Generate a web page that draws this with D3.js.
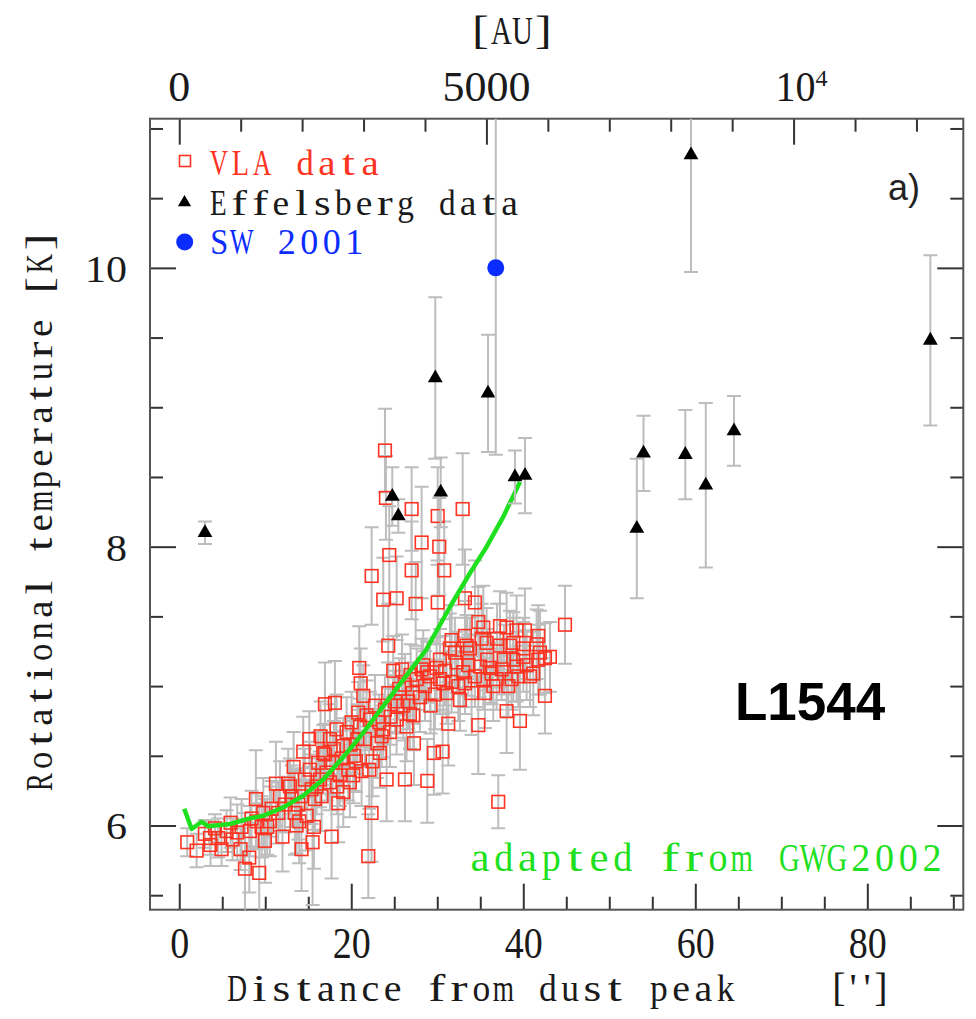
<!DOCTYPE html>
<html>
<head>
<meta charset="utf-8">
<script src="https://cdn.jsdelivr.net/npm/d3@7"></script>
<style>
  body { margin: 0; background: #fff; }
  svg { display: block; }
</style>
</head>
<body>
<div id="chart"></div>
<script>
// ---- data ----
// VLA points: [distance ("), Trot (K), error (K)]
const vlaPoints = [
  [0.93,5.88,0.1],[2.02,5.82,0.12],[2.98,5.94,0.1],[3.57,5.91,0.12],[3.64,5.86,0.15],
  [4.15,5.98,0.1],[4.53,5.91,0.14],[4.92,5.83,0.12],[5.5,5.96,0.15],[5.97,6.02,0.18],
  [6.2,5.90,0.15],[6.74,5.95,0.2],[7.13,5.83,0.15],[7.25,5.99,0.2],[7.64,5.69,0.4],
  [8.14,5.77,0.25],[8.22,5.96,0.18],[8.41,6.05,0.2],[8.91,6.19,0.35],[9.0,6.03,0.2],
  [9.3,5.66,0.5],[9.57,5.99,0.22],[9.77,6.09,0.25],[9.96,5.89,0.3],[10.23,5.99,0.2],
  [10.54,6.03,0.25],[10.74,6.12,0.2],[11.24,6.30,0.3],[11.51,6.09,0.22],[11.71,6.21,0.25],
  [12.0,5.92,0.25],[12.29,6.15,0.2],[12.67,6.30,0.25],[12.87,6.28,0.2],[13.06,6.21,0.22],
  [13.45,6.09,0.3],[13.64,6.00,0.2],[13.84,6.15,0.25],[13.95,6.03,0.3],[14.22,5.83,0.3],
  [14.22,6.21,0.2],[14.42,6.53,0.25],[14.61,6.33,0.22],[14.81,6.07,0.25],[15.12,6.62,0.2],
  [15.19,6.40,0.2],[15.39,6.26,0.25],[15.5,5.88,0.45],[15.66,5.99,0.3],[15.78,6.19,0.22],
  [15.97,6.28,0.2],[16.16,6.45,0.22],[16.36,6.33,0.2],[16.43,6.64,0.25],[16.55,6.21,0.25],
  [16.74,6.52,0.2],[16.94,6.87,0.3],[16.94,6.51,0.22],[17.13,6.38,0.2],[17.52,6.62,0.25],
  [17.52,6.31,0.2],[17.71,5.92,0.3],[17.83,6.45,0.22],[17.98,6.55,0.2],[18.1,6.88,0.3],
  [18.29,6.69,0.25],[18.37,6.28,0.2],[18.49,6.16,0.28],[18.68,6.36,0.22],[18.88,6.48,0.2],
  [19.07,6.24,0.25],[19.07,6.57,0.2],[19.46,6.67,0.25],[19.65,6.40,0.22],[19.84,6.31,0.25],
  [20.04,6.74,0.22],[20.23,6.36,0.2],[20.31,6.50,0.25],[20.54,6.46,0.22],[20.7,6.62,0.25],
  [20.81,6.81,0.22],[20.93,7.13,0.3],[21.01,6.71,0.2],[21.09,7.02,0.25],[21.2,6.39,0.25],
  [21.4,6.93,0.22],[21.59,6.62,0.2],[21.78,6.79,0.25],[21.98,5.78,0.3],[22.09,6.40,0.28],
  [22.17,6.76,0.2],[22.36,6.09,0.35],[22.37,7.79,0.35],[22.48,6.46,0.25],[22.75,6.86,0.22],
  [23.02,6.59,0.25],[23.26,6.74,0.2],[23.33,6.52,0.25],[23.53,6.64,0.22],[23.72,6.69,0.2],
  [23.72,7.62,0.3],[23.91,6.83,0.25],[23.92,8.69,0.3],[24.03,8.35,0.3],[24.11,6.33,0.3],
  [24.3,7.29,0.3],[24.3,6.95,0.22],[24.42,7.94,0.35],[24.5,6.67,0.25],[24.57,6.78,0.2],
  [24.88,7.11,0.25],[25.08,6.89,0.22],[25.27,6.76,0.25],[25.28,7.63,0.3],[25.35,6.86,0.2],
  [25.58,6.98,0.22],[26.05,6.86,0.25],[26.24,6.33,0.3],[26.24,7.01,0.22],[26.43,6.71,0.25],
  [26.63,6.89,0.2],[26.82,6.80,0.25],[27.02,8.27,0.3],[27.02,7.83,0.35],[27.13,6.95,0.22],
  [27.21,6.79,0.25],[27.29,6.59,0.3],[27.49,7.59,0.3],[27.6,7.05,0.22],[27.98,6.92,0.25],
  [28.18,7.12,0.22],[28.18,8.03,0.4],[28.57,7.00,0.25],[28.84,6.32,0.3],[28.84,7.10,0.22],
  [29.15,7.07,0.25],[29.22,6.86,0.2],[29.61,6.52,0.3],[29.73,6.94,0.25],[29.92,7.13,0.22],
  [30.05,8.22,0.35],[30.05,7.60,0.3],[30.23,8.00,0.35],[30.31,7.05,0.25],[30.62,6.53,0.3],
  [30.7,7.02,0.22],[30.81,7.83,0.35],[30.89,7.11,0.25],[31.09,6.95,0.22],[31.28,6.73,0.3],
  [31.47,7.27,0.25],[31.67,7.03,0.22],[31.67,7.33,0.25],[32.25,7.17,0.22],[32.44,7.00,0.25],
  [32.64,6.90,0.22],[32.95,8.27,0.4],[33.02,7.10,0.25],[33.22,7.02,0.22],[33.22,7.63,0.35],
  [33.22,7.36,0.25],[33.41,7.29,0.22],[33.49,7.24,0.25],[33.6,7.15,0.22],[33.99,6.95,0.3],
  [34.38,7.60,0.3],[34.38,7.07,0.22],[34.77,6.72,0.35],[34.77,7.46,0.25],[34.96,7.14,0.22],
  [35.16,7.34,0.25],[35.35,7.05,0.22],[35.35,7.42,0.3],[35.54,6.95,0.25],[35.81,7.19,0.22],
  [36.12,7.13,0.25],[36.32,7.09,0.22],[36.51,7.00,0.25],[36.9,7.05,0.22],[36.95,7.34,0.25],
  [37.09,6.17,0.19],[37.29,7.29,0.3],[37.29,7.43,0.25],[37.48,7.12,0.22],[37.75,7.19,0.25],
  [38.06,6.82,0.3],[38.06,7.42,0.25],[38.26,7.00,0.22],[38.45,7.29,0.25],[38.64,7.05,0.22],
  [38.84,7.19,0.3],[39.22,7.14,0.25],[39.22,7.40,0.25],[39.42,7.07,0.22],[39.61,6.75,0.35],
  [40.0,7.21,0.25],[40.0,7.27,0.22],[40.19,7.40,0.3],[40.39,7.15,0.25],[40.78,7.07,0.22],
  [41.16,7.09,0.3],[41.74,7.19,0.25],[41.74,7.36,0.22],[41.94,7.24,0.3],[42.52,7.20,0.25],
  [42.52,6.93,0.27],[44.85,7.44,0.28],
  [43.1,7.21,0.25],[41.55,7.30,0.25],[38.84,7.31,0.22],[35.74,7.31,0.25],[33.8,7.27,0.22],
  [32.05,7.24,0.25],[30.31,7.19,0.22],[28.37,7.15,0.25],[26.9,7.08,0.22],[25.9,7.12,0.25],
  [19.9,6.58,0.2],[13.3,6.42,0.25]
];

// Effelsberg points
const effDist = [2.99, 24.77, 25.47, 30.4, 29.77, 35.9, 39.03, 40.2, 59.5, 87.33, 53.98, 53.2, 58.84, 61.22, 64.5];
const effTemp = [8.10, 8.36, 8.22, 8.39, 9.21, 9.10, 8.50, 8.51, 10.81, 9.48, 8.67, 8.13, 8.66, 8.44, 8.83];
const effErr  = [0.08, 0.21, 0.12, 0.25, 0.58, 0.42, 0.19, 0.27, 0.84, 0.61, 0.27, 0.50, 0.32, 0.59, 0.25];

// SW 2001
const swDist = [36.8];
const swTemp = [10.0];
const swErr  = [1.34];

// green curve, adapted from GWG2002
const fitDist = [0.58, 1.44, 2.6, 3.37, 5.9, 8.2, 9.77, 12.09, 14.4, 16.74, 19.07, 21.4, 23.72, 26.05, 28.7, 31.5, 33.8, 35.74, 37.67, 39.62];
const fitTemp = [6.12, 5.975, 6.027, 5.994, 6.011, 6.051, 6.07, 6.13, 6.213, 6.33, 6.49, 6.666, 6.856, 7.047, 7.26, 7.571, 7.81, 8.0, 8.214, 8.465];

// ticks
const xTicks = [0, 20, 40, 60, 80];
const xMinorTicks = [5, 10, 15, 25, 30, 35, 45, 50, 55, 65, 70, 75, 85, 90];
const auTicks = [0, 5000, 10000];
const auMinorTicks = [1000, 2000, 3000, 4000, 6000, 7000, 8000, 9000, 11000, 12000];
const tempTicks = [6, 8, 10];
const tempMinorTicks = [5.5, 6.5, 7, 7.5, 8.5, 9, 9.5, 10.5, 11];
const auPerArcsec = 140;

// ---- layout ----
const W = 976, H = 1019;
const frame = { left: 150, right: 963.3, top: 118.7, bottom: 909.7 };
const serif = "'Liberation Serif', 'DejaVu Serif', serif";
const red = "#ff3322", green = "#1fe01f", blue = "#0b2cff", gray = "#bdbdbd", ink = "#1a1a1a";

const svg = d3.select("#chart").append("svg")
    .attr("width", W).attr("height", H)
    .style("background", "#fff");

const x = d3.scaleLinear().domain([-3.4, 91.16]).range([frame.left, frame.right]);
const y = d3.scaleLinear().domain([5.396, 11.07]).range([frame.bottom, frame.top]);
const xAU = d3.scaleLinear()
    .domain(x.domain().map(d => d * auPerArcsec))
    .range(x.range());

svg.append("clipPath").attr("id", "clip")
    .append("rect")
    .attr("x", frame.left).attr("y", frame.top)
    .attr("width", frame.right - frame.left)
    .attr("height", frame.bottom - frame.top);

// typewriter-like text: serif glyphs on a fixed pitch, each glyph squeezed/widened toward the pitch
function monoText(str, o) {
    const total = str.length * o.adv;
    const x0 = o.anchor === "middle" ? -total / 2 : 0;
    const g = svg.append("g")
        .attr("transform", `translate(${o.x},${o.y}) rotate(${o.rotate || 0})`)
        .attr("font-family", serif).attr("font-size", o.size).attr("fill", o.fill || ink)
        .attr("text-anchor", "middle");
    str.split("").forEach((c, i) => {
        if (c === " ") return;
        const t = g.append("text").text(c);
        const w = t.node().getComputedTextLength() || o.adv * 0.7;
        const s = Math.max(o.minS || 0.72, Math.min(o.maxS || 1.35, (o.fill_ || 0.8) * o.adv / w));
        t.attr("transform", `translate(${(x0 + (i + 0.5) * o.adv).toFixed(2)},0) scale(${s.toFixed(3)},1)`);
    });
    return g;
}

// axes: ticks pointing inwards
function axisTicks(axis, transform, values, size, labels) {
    const g = svg.append("g")
        .attr("transform", transform)
        .call(axis.tickValues(values).tickSize(size).tickSizeOuter(0)
            .tickFormat(labels ? labels : ""));
    g.select(".domain").remove();
    g.selectAll(".tick line").attr("stroke", "#333").attr("stroke-width", 2);
    return g;
}

const gBottom = axisTicks(d3.axisBottom(x), `translate(0,${frame.bottom})`, xTicks, -26, d => d);
axisTicks(d3.axisBottom(x), `translate(0,${frame.bottom})`, xMinorTicks, -13);
gBottom.selectAll("text")
    .attr("y", 48).attr("dy", null)
    .attr("font-family", serif).attr("font-size", 44).attr("fill", ink)
    .attr("textLength", d => String(d).length * 19)
    .attr("lengthAdjust", "spacingAndGlyphs");

axisTicks(d3.axisTop(xAU), `translate(0,${frame.top})`, auTicks, -26);
axisTicks(d3.axisTop(xAU), `translate(0,${frame.top})`, auMinorTicks, -13);

const gLeft = axisTicks(d3.axisLeft(y), `translate(${frame.left},0)`, tempTicks, -26, d => d);
axisTicks(d3.axisLeft(y), `translate(${frame.left},0)`, tempMinorTicks, -13);
gLeft.selectAll("text")
    .attr("x", -23).attr("dy", "0.36em")
    .attr("font-family", serif).attr("font-size", 37).attr("fill", ink)
    .attr("textLength", d => String(d).length * 21)
    .attr("lengthAdjust", "spacingAndGlyphs");

axisTicks(d3.axisRight(y), `translate(${frame.right},0)`, tempTicks, -26);
axisTicks(d3.axisRight(y), `translate(${frame.right},0)`, tempMinorTicks, -13);

// top AU labels
svg.append("g").attr("font-family", serif).attr("fill", ink)
    .selectAll("text")
    .data(auTicks)
    .join("text")
    .attr("x", d => xAU(d) + (d === 10000 ? 8 : 0))
    .attr("y", 101)
    .attr("text-anchor", "middle")
    .attr("font-size", 42)
    .each(function (d) {
        const t = d3.select(this);
        if (d === 10000) {
            t.append("tspan").attr("textLength", 40).attr("lengthAdjust", "spacingAndGlyphs").text("10");
            t.append("tspan").attr("font-size", 24).attr("dy", -15).text("4");
        } else {
            t.attr("textLength", String(d).length * 22).attr("lengthAdjust", "spacingAndGlyphs").text(d);
        }
    });

// frame
svg.append("rect")
    .attr("x", frame.left).attr("y", frame.top)
    .attr("width", frame.right - frame.left)
    .attr("height", frame.bottom - frame.top)
    .attr("fill", "none").attr("stroke", "#555").attr("stroke-width", 2);

// error bars
function errorBars(data, cap) {
    const g = svg.append("g").attr("clip-path", "url(#clip)")
        .attr("stroke", gray).attr("stroke-width", 2).attr("fill", "none");
    g.selectAll("path")
        .data(data)
        .join("path")
        .attr("d", d => {
            const cx = x(d[0]), y0 = y(d[1] - d[2]), y1 = y(d[1] + d[2]);
            return `M${cx},${y0}V${y1}M${cx - cap},${y0}H${cx + cap}M${cx - cap},${y1}H${cx + cap}`;
        });
}

errorBars(vlaPoints, 7);

// VLA squares
svg.append("g")
    .selectAll("rect")
    .data(vlaPoints)
    .join("rect")
    .attr("x", d => x(d[0]) - 6.3)
    .attr("y", d => y(d[1]) - 6.3)
    .attr("width", 12.6).attr("height", 12.6)
    .attr("fill", "none").attr("stroke", red).attr("stroke-width", 1.6);

// green curve
const fitLine = d3.line().x(d => x(d[0])).y(d => y(d[1]));
svg.append("path")
    .datum(fitDist.map((d, i) => [d, fitTemp[i]]))
    .attr("d", fitLine)
    .attr("fill", "none").attr("stroke", green).attr("stroke-width", 4.5)
    .attr("stroke-linejoin", "round");

// Effelsberg
const effData = effDist.map((d, i) => [d, effTemp[i], effErr[i]]);
errorBars(effData, 7);
const tri = d3.symbol().type(d3.symbolTriangle).size(95);
svg.append("g")
    .selectAll("path")
    .data(effData)
    .join("path")
    .attr("transform", d => `translate(${x(d[0])},${y(d[1])})`)
    .attr("d", tri)
    .attr("fill", "#000");

// SW 2001
const swData = swDist.map((d, i) => [d, swTemp[i], swErr[i]]);
errorBars(swData, 7);
svg.append("g")
    .selectAll("circle")
    .data(swData)
    .join("circle")
    .attr("cx", d => x(d[0])).attr("cy", d => y(d[1]))
    .attr("r", 8.5).attr("fill", blue);

// legend
svg.append("rect").attr("x", 179.5).attr("y", 155.5).attr("width", 11).attr("height", 11)
    .attr("fill", "none").attr("stroke", red).attr("stroke-width", 1.6);
monoText("VLA data", { x: 208, y: 175, adv: 21.6, size: 35, fill: red });
svg.append("path").attr("transform", "translate(184.5,202.5)")
    .attr("d", d3.symbol().type(d3.symbolTriangle).size(75)).attr("fill", "#000");
monoText("Effelsberg data", { x: 208, y: 215, adv: 20.8, size: 35 });
svg.append("circle").attr("cx", 184.7).attr("cy", 242).attr("r", 8.5).attr("fill", blue);
monoText("SW 2001", { x: 208, y: 254, adv: 22.5, size: 35, fill: blue });

// panel label and annotations
svg.append("text").attr("x", 888).attr("y", 200)
    .attr("font-family", "'Liberation Sans', Arial, sans-serif").attr("font-size", 36)
    .attr("fill", "#222").text("a)");

svg.append("text").attr("x", 735).attr("y", 720)
    .attr("font-family", "'Liberation Sans', Arial, sans-serif").attr("font-weight", "bold")
    .attr("font-size", 53).attr("fill", "#000").text("L1544");

monoText("adapted from GWG2002", { x: 468, y: 871, adv: 23.8, size: 40, fill: green });

// axis titles
monoText("Distance from dust peak", { x: 226, y: 1001, adv: 22.2, size: 38 });
monoText("['']", { x: 832, y: 1001, adv: 14, size: 40, minS: 1, maxS: 1 });
monoText("Rotational temperature [K]", { x: 52, y: 512, adv: 21.6, size: 37, anchor: "middle", rotate: -90 });
monoText("[AU]", { x: 512, y: 44, adv: 21, size: 40, anchor: "middle" });
</script>
</body>
</html>
